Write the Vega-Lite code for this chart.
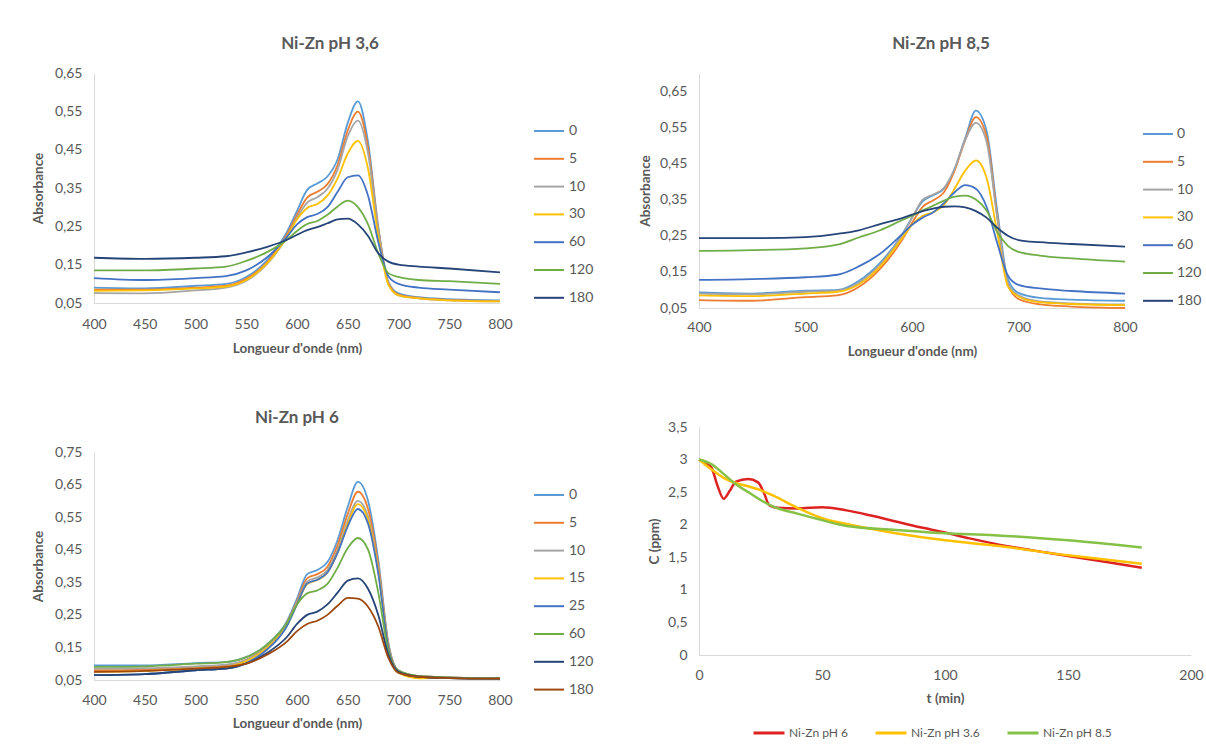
{
  "$schema": "https://vega.github.io/schema/vega-lite/v6.json",
  "background": "white",
  "padding": {"left": 31, "top": 35, "right": 4, "bottom": 4},
  "config": {
    "locale": {"number": {"decimal": ",", "thousands": " ", "grouping": [3], "currency": ["", " €"]}},
    "font": "Lato",
    "view": {"stroke": null},
    "axis": {"grid": false, "ticks": false, "domainColor": "#D9D9D9", "domainWidth": 1, "labelColor": "#595959", "labelFontSize": 14, "labelFont": "Lato", "titleColor": "#595959", "titleFontSize": 13.5, "titleFontWeight": "bold", "titleFont": "Lato", "labelFlush": false, "labelPadding": 12},
    "legend": {"symbolType": "stroke", "labelFontSize": 14, "labelColor": "#595959", "labelFont": "Lato", "padding": 0, "labelOffset": 4},
    "title": {"font": "Lato", "fontSize": 17, "fontWeight": "bold", "color": "#595959", "anchor": "middle", "frame": "group"}
  },
  "datasets": {
    "p1": [
      {"w":400,"s":"0","a":0.090},{"w":450,"s":"0","a":0.088},{"w":500,"s":"0","a":0.095},{"w":530,"s":"0","a":0.100},{"w":550,"s":"0","a":0.118},{"w":570,"s":"0","a":0.160},{"w":590,"s":"0","a":0.235},{"w":600,"s":"0","a":0.290},{"w":610,"s":"0","a":0.345},{"w":620,"s":"0","a":0.362},{"w":630,"s":"0","a":0.380},{"w":640,"s":"0","a":0.425},{"w":650,"s":"0","a":0.520},{"w":660,"s":"0","a":0.576},{"w":670,"s":"0","a":0.470},{"w":680,"s":"0","a":0.250},{"w":690,"s":"0","a":0.105},{"w":700,"s":"0","a":0.075},{"w":720,"s":"0","a":0.065},{"w":750,"s":"0","a":0.060},{"w":800,"s":"0","a":0.057},
      {"w":400,"s":"5","a":0.085},{"w":450,"s":"5","a":0.085},{"w":500,"s":"5","a":0.090},{"w":530,"s":"5","a":0.095},{"w":550,"s":"5","a":0.113},{"w":570,"s":"5","a":0.155},{"w":590,"s":"5","a":0.228},{"w":600,"s":"5","a":0.280},{"w":610,"s":"5","a":0.325},{"w":620,"s":"5","a":0.340},{"w":630,"s":"5","a":0.360},{"w":640,"s":"5","a":0.410},{"w":650,"s":"5","a":0.500},{"w":660,"s":"5","a":0.549},{"w":670,"s":"5","a":0.455},{"w":680,"s":"5","a":0.245},{"w":690,"s":"5","a":0.103},{"w":700,"s":"5","a":0.072},{"w":720,"s":"5","a":0.063},{"w":750,"s":"5","a":0.058},{"w":800,"s":"5","a":0.055},
      {"w":400,"s":"10","a":0.076},{"w":450,"s":"10","a":0.075},{"w":500,"s":"10","a":0.083},{"w":530,"s":"10","a":0.090},{"w":550,"s":"10","a":0.108},{"w":570,"s":"10","a":0.150},{"w":590,"s":"10","a":0.222},{"w":600,"s":"10","a":0.272},{"w":610,"s":"10","a":0.312},{"w":620,"s":"10","a":0.326},{"w":630,"s":"10","a":0.348},{"w":640,"s":"10","a":0.398},{"w":650,"s":"10","a":0.485},{"w":660,"s":"10","a":0.526},{"w":670,"s":"10","a":0.440},{"w":680,"s":"10","a":0.240},{"w":690,"s":"10","a":0.100},{"w":700,"s":"10","a":0.070},{"w":720,"s":"10","a":0.062},{"w":750,"s":"10","a":0.057},{"w":800,"s":"10","a":0.054},
      {"w":400,"s":"30","a":0.082},{"w":450,"s":"30","a":0.083},{"w":500,"s":"30","a":0.088},{"w":530,"s":"30","a":0.093},{"w":550,"s":"30","a":0.110},{"w":570,"s":"30","a":0.152},{"w":590,"s":"30","a":0.222},{"w":600,"s":"30","a":0.268},{"w":610,"s":"30","a":0.298},{"w":620,"s":"30","a":0.308},{"w":630,"s":"30","a":0.330},{"w":640,"s":"30","a":0.375},{"w":650,"s":"30","a":0.440},{"w":660,"s":"30","a":0.473},{"w":670,"s":"30","a":0.400},{"w":680,"s":"30","a":0.225},{"w":690,"s":"30","a":0.098},{"w":700,"s":"30","a":0.070},{"w":720,"s":"30","a":0.062},{"w":750,"s":"30","a":0.057},{"w":800,"s":"30","a":0.054},
      {"w":400,"s":"60","a":0.115},{"w":450,"s":"60","a":0.110},{"w":500,"s":"60","a":0.115},{"w":530,"s":"60","a":0.120},{"w":550,"s":"60","a":0.135},{"w":570,"s":"60","a":0.168},{"w":590,"s":"60","a":0.222},{"w":600,"s":"60","a":0.255},{"w":610,"s":"60","a":0.274},{"w":620,"s":"60","a":0.282},{"w":630,"s":"60","a":0.300},{"w":640,"s":"60","a":0.340},{"w":650,"s":"60","a":0.378},{"w":660,"s":"60","a":0.383},{"w":670,"s":"60","a":0.330},{"w":680,"s":"60","a":0.210},{"w":690,"s":"60","a":0.120},{"w":700,"s":"60","a":0.100},{"w":720,"s":"60","a":0.090},{"w":750,"s":"60","a":0.085},{"w":800,"s":"60","a":0.078},
      {"w":400,"s":"120","a":0.135},{"w":450,"s":"120","a":0.135},{"w":500,"s":"120","a":0.140},{"w":530,"s":"120","a":0.145},{"w":550,"s":"120","a":0.160},{"w":570,"s":"120","a":0.182},{"w":590,"s":"120","a":0.215},{"w":600,"s":"120","a":0.238},{"w":610,"s":"120","a":0.256},{"w":620,"s":"120","a":0.264},{"w":630,"s":"120","a":0.280},{"w":640,"s":"120","a":0.302},{"w":650,"s":"120","a":0.317},{"w":660,"s":"120","a":0.300},{"w":670,"s":"120","a":0.255},{"w":680,"s":"120","a":0.180},{"w":690,"s":"120","a":0.128},{"w":700,"s":"120","a":0.118},{"w":720,"s":"120","a":0.110},{"w":750,"s":"120","a":0.107},{"w":800,"s":"120","a":0.100},
      {"w":400,"s":"180","a":0.168},{"w":450,"s":"180","a":0.165},{"w":500,"s":"180","a":0.168},{"w":530,"s":"180","a":0.172},{"w":550,"s":"180","a":0.182},{"w":570,"s":"180","a":0.196},{"w":590,"s":"180","a":0.215},{"w":600,"s":"180","a":0.228},{"w":610,"s":"180","a":0.240},{"w":620,"s":"180","a":0.248},{"w":630,"s":"180","a":0.258},{"w":640,"s":"180","a":0.268},{"w":650,"s":"180","a":0.270},{"w":660,"s":"180","a":0.255},{"w":670,"s":"180","a":0.225},{"w":680,"s":"180","a":0.180},{"w":690,"s":"180","a":0.158},{"w":700,"s":"180","a":0.150},{"w":720,"s":"180","a":0.145},{"w":750,"s":"180","a":0.140},{"w":800,"s":"180","a":0.130}
    ],
    "p2": [
      {"w":400,"s":"0","a":0.093},{"w":450,"s":"0","a":0.090},{"w":500,"s":"0","a":0.098},{"w":530,"s":"0","a":0.100},{"w":550,"s":"0","a":0.125},{"w":570,"s":"0","a":0.175},{"w":590,"s":"0","a":0.250},{"w":600,"s":"0","a":0.300},{"w":610,"s":"0","a":0.345},{"w":620,"s":"0","a":0.362},{"w":630,"s":"0","a":0.380},{"w":640,"s":"0","a":0.435},{"w":650,"s":"0","a":0.520},{"w":660,"s":"0","a":0.596},{"w":670,"s":"0","a":0.540},{"w":680,"s":"0","a":0.320},{"w":690,"s":"0","a":0.130},{"w":700,"s":"0","a":0.092},{"w":720,"s":"0","a":0.078},{"w":750,"s":"0","a":0.073},{"w":800,"s":"0","a":0.070},
      {"w":400,"s":"5","a":0.072},{"w":450,"s":"5","a":0.070},{"w":500,"s":"5","a":0.080},{"w":530,"s":"5","a":0.085},{"w":550,"s":"5","a":0.108},{"w":570,"s":"5","a":0.158},{"w":590,"s":"5","a":0.235},{"w":600,"s":"5","a":0.285},{"w":610,"s":"5","a":0.330},{"w":620,"s":"5","a":0.348},{"w":630,"s":"5","a":0.370},{"w":640,"s":"5","a":0.430},{"w":650,"s":"5","a":0.515},{"w":660,"s":"5","a":0.578},{"w":670,"s":"5","a":0.525},{"w":680,"s":"5","a":0.305},{"w":690,"s":"5","a":0.115},{"w":700,"s":"5","a":0.075},{"w":720,"s":"5","a":0.060},{"w":750,"s":"5","a":0.054},{"w":800,"s":"5","a":0.050},
      {"w":400,"s":"10","a":0.090},{"w":450,"s":"10","a":0.088},{"w":500,"s":"10","a":0.095},{"w":530,"s":"10","a":0.098},{"w":550,"s":"10","a":0.120},{"w":570,"s":"10","a":0.170},{"w":590,"s":"10","a":0.248},{"w":600,"s":"10","a":0.298},{"w":610,"s":"10","a":0.350},{"w":620,"s":"10","a":0.364},{"w":630,"s":"10","a":0.382},{"w":640,"s":"10","a":0.435},{"w":650,"s":"10","a":0.515},{"w":660,"s":"10","a":0.562},{"w":670,"s":"10","a":0.510},{"w":680,"s":"10","a":0.300},{"w":690,"s":"10","a":0.120},{"w":700,"s":"10","a":0.085},{"w":720,"s":"10","a":0.068},{"w":750,"s":"10","a":0.063},{"w":800,"s":"10","a":0.060},
      {"w":400,"s":"30","a":0.085},{"w":450,"s":"30","a":0.083},{"w":500,"s":"30","a":0.090},{"w":530,"s":"30","a":0.095},{"w":550,"s":"30","a":0.115},{"w":570,"s":"30","a":0.165},{"w":590,"s":"30","a":0.240},{"w":600,"s":"30","a":0.280},{"w":610,"s":"30","a":0.305},{"w":620,"s":"30","a":0.315},{"w":630,"s":"30","a":0.335},{"w":640,"s":"30","a":0.380},{"w":650,"s":"30","a":0.430},{"w":660,"s":"30","a":0.458},{"w":670,"s":"30","a":0.410},{"w":680,"s":"30","a":0.260},{"w":690,"s":"30","a":0.110},{"w":700,"s":"30","a":0.082},{"w":720,"s":"30","a":0.066},{"w":750,"s":"30","a":0.061},{"w":800,"s":"30","a":0.058},
      {"w":400,"s":"60","a":0.128},{"w":450,"s":"60","a":0.130},{"w":500,"s":"60","a":0.135},{"w":530,"s":"60","a":0.142},{"w":550,"s":"60","a":0.165},{"w":570,"s":"60","a":0.200},{"w":590,"s":"60","a":0.252},{"w":600,"s":"60","a":0.280},{"w":610,"s":"60","a":0.300},{"w":620,"s":"60","a":0.315},{"w":630,"s":"60","a":0.340},{"w":640,"s":"60","a":0.370},{"w":650,"s":"60","a":0.390},{"w":660,"s":"60","a":0.380},{"w":670,"s":"60","a":0.330},{"w":680,"s":"60","a":0.230},{"w":690,"s":"60","a":0.140},{"w":700,"s":"60","a":0.114},{"w":720,"s":"60","a":0.104},{"w":750,"s":"60","a":0.097},{"w":800,"s":"60","a":0.090},
      {"w":400,"s":"120","a":0.208},{"w":450,"s":"120","a":0.210},{"w":500,"s":"120","a":0.215},{"w":530,"s":"120","a":0.225},{"w":550,"s":"120","a":0.245},{"w":570,"s":"120","a":0.265},{"w":590,"s":"120","a":0.292},{"w":600,"s":"120","a":0.305},{"w":610,"s":"120","a":0.320},{"w":620,"s":"120","a":0.333},{"w":630,"s":"120","a":0.347},{"w":640,"s":"120","a":0.358},{"w":650,"s":"120","a":0.361},{"w":660,"s":"120","a":0.350},{"w":670,"s":"120","a":0.320},{"w":680,"s":"120","a":0.260},{"w":690,"s":"120","a":0.222},{"w":700,"s":"120","a":0.205},{"w":720,"s":"120","a":0.195},{"w":750,"s":"120","a":0.187},{"w":800,"s":"120","a":0.178},
      {"w":400,"s":"180","a":0.243},{"w":450,"s":"180","a":0.243},{"w":500,"s":"180","a":0.246},{"w":530,"s":"180","a":0.255},{"w":550,"s":"180","a":0.265},{"w":570,"s":"180","a":0.282},{"w":590,"s":"180","a":0.298},{"w":600,"s":"180","a":0.308},{"w":610,"s":"180","a":0.318},{"w":620,"s":"180","a":0.325},{"w":630,"s":"180","a":0.330},{"w":640,"s":"180","a":0.331},{"w":650,"s":"180","a":0.328},{"w":660,"s":"180","a":0.318},{"w":670,"s":"180","a":0.300},{"w":680,"s":"180","a":0.272},{"w":690,"s":"180","a":0.250},{"w":700,"s":"180","a":0.238},{"w":720,"s":"180","a":0.232},{"w":750,"s":"180","a":0.227},{"w":800,"s":"180","a":0.220}
    ],
    "p3": [
      {"w":400,"s":"0","a":0.095},{"w":450,"s":"0","a":0.095},{"w":500,"s":"0","a":0.102},{"w":530,"s":"0","a":0.105},{"w":550,"s":"0","a":0.120},{"w":570,"s":"0","a":0.158},{"w":590,"s":"0","a":0.230},{"w":600,"s":"0","a":0.300},{"w":610,"s":"0","a":0.375},{"w":620,"s":"0","a":0.388},{"w":630,"s":"0","a":0.412},{"w":640,"s":"0","a":0.480},{"w":650,"s":"0","a":0.582},{"w":660,"s":"0","a":0.658},{"w":670,"s":"0","a":0.600},{"w":680,"s":"0","a":0.420},{"w":690,"s":"0","a":0.165},{"w":700,"s":"0","a":0.080},{"w":720,"s":"0","a":0.062},{"w":750,"s":"0","a":0.058},{"w":800,"s":"0","a":0.055},
      {"w":400,"s":"5","a":0.080},{"w":450,"s":"5","a":0.082},{"w":500,"s":"5","a":0.090},{"w":530,"s":"5","a":0.095},{"w":550,"s":"5","a":0.112},{"w":570,"s":"5","a":0.152},{"w":590,"s":"5","a":0.225},{"w":600,"s":"5","a":0.292},{"w":610,"s":"5","a":0.362},{"w":620,"s":"5","a":0.375},{"w":630,"s":"5","a":0.398},{"w":640,"s":"5","a":0.464},{"w":650,"s":"5","a":0.560},{"w":660,"s":"5","a":0.628},{"w":670,"s":"5","a":0.575},{"w":680,"s":"5","a":0.405},{"w":690,"s":"5","a":0.160},{"w":700,"s":"5","a":0.078},{"w":720,"s":"5","a":0.062},{"w":750,"s":"5","a":0.058},{"w":800,"s":"5","a":0.055},
      {"w":400,"s":"10","a":0.085},{"w":450,"s":"10","a":0.086},{"w":500,"s":"10","a":0.092},{"w":530,"s":"10","a":0.097},{"w":550,"s":"10","a":0.112},{"w":570,"s":"10","a":0.150},{"w":590,"s":"10","a":0.222},{"w":600,"s":"10","a":0.288},{"w":610,"s":"10","a":0.352},{"w":620,"s":"10","a":0.365},{"w":630,"s":"10","a":0.388},{"w":640,"s":"10","a":0.450},{"w":650,"s":"10","a":0.540},{"w":660,"s":"10","a":0.600},{"w":670,"s":"10","a":0.552},{"w":680,"s":"10","a":0.390},{"w":690,"s":"10","a":0.155},{"w":700,"s":"10","a":0.077},{"w":720,"s":"10","a":0.062},{"w":750,"s":"10","a":0.058},{"w":800,"s":"10","a":0.055},
      {"w":400,"s":"15","a":0.075},{"w":450,"s":"15","a":0.078},{"w":500,"s":"15","a":0.085},{"w":530,"s":"15","a":0.090},{"w":550,"s":"15","a":0.108},{"w":570,"s":"15","a":0.147},{"w":590,"s":"15","a":0.218},{"w":600,"s":"15","a":0.283},{"w":610,"s":"15","a":0.345},{"w":620,"s":"15","a":0.357},{"w":630,"s":"15","a":0.380},{"w":640,"s":"15","a":0.442},{"w":650,"s":"15","a":0.530},{"w":660,"s":"15","a":0.590},{"w":670,"s":"15","a":0.542},{"w":680,"s":"15","a":0.385},{"w":690,"s":"15","a":0.152},{"w":700,"s":"15","a":0.072},{"w":720,"s":"15","a":0.055},{"w":750,"s":"15","a":0.056},{"w":800,"s":"15","a":0.054},
      {"w":400,"s":"25","a":0.065},{"w":450,"s":"25","a":0.068},{"w":500,"s":"25","a":0.080},{"w":530,"s":"25","a":0.085},{"w":550,"s":"25","a":0.102},{"w":570,"s":"25","a":0.142},{"w":590,"s":"25","a":0.215},{"w":600,"s":"25","a":0.282},{"w":610,"s":"25","a":0.346},{"w":620,"s":"25","a":0.358},{"w":630,"s":"25","a":0.380},{"w":640,"s":"25","a":0.440},{"w":650,"s":"25","a":0.522},{"w":660,"s":"25","a":0.575},{"w":670,"s":"25","a":0.530},{"w":680,"s":"25","a":0.378},{"w":690,"s":"25","a":0.150},{"w":700,"s":"25","a":0.075},{"w":720,"s":"25","a":0.060},{"w":750,"s":"25","a":0.056},{"w":800,"s":"25","a":0.054},
      {"w":400,"s":"60","a":0.090},{"w":450,"s":"60","a":0.092},{"w":500,"s":"60","a":0.100},{"w":530,"s":"60","a":0.105},{"w":550,"s":"60","a":0.120},{"w":570,"s":"60","a":0.157},{"w":590,"s":"60","a":0.225},{"w":600,"s":"60","a":0.282},{"w":610,"s":"60","a":0.316},{"w":620,"s":"60","a":0.325},{"w":630,"s":"60","a":0.345},{"w":640,"s":"60","a":0.395},{"w":650,"s":"60","a":0.455},{"w":660,"s":"60","a":0.486},{"w":670,"s":"60","a":0.450},{"w":680,"s":"60","a":0.320},{"w":690,"s":"60","a":0.140},{"w":700,"s":"60","a":0.078},{"w":720,"s":"60","a":0.062},{"w":750,"s":"60","a":0.058},{"w":800,"s":"60","a":0.055},
      {"w":400,"s":"120","a":0.065},{"w":450,"s":"120","a":0.068},{"w":500,"s":"120","a":0.080},{"w":530,"s":"120","a":0.085},{"w":550,"s":"120","a":0.100},{"w":570,"s":"120","a":0.132},{"w":590,"s":"120","a":0.182},{"w":600,"s":"120","a":0.222},{"w":610,"s":"120","a":0.250},{"w":620,"s":"120","a":0.260},{"w":630,"s":"120","a":0.282},{"w":640,"s":"120","a":0.318},{"w":650,"s":"120","a":0.355},{"w":660,"s":"120","a":0.362},{"w":670,"s":"120","a":0.330},{"w":680,"s":"120","a":0.250},{"w":690,"s":"120","a":0.128},{"w":700,"s":"120","a":0.075},{"w":720,"s":"120","a":0.060},{"w":750,"s":"120","a":0.056},{"w":800,"s":"120","a":0.054},
      {"w":400,"s":"180","a":0.075},{"w":450,"s":"180","a":0.078},{"w":500,"s":"180","a":0.085},{"w":530,"s":"180","a":0.090},{"w":550,"s":"180","a":0.100},{"w":570,"s":"180","a":0.127},{"w":590,"s":"180","a":0.168},{"w":600,"s":"180","a":0.200},{"w":610,"s":"180","a":0.222},{"w":620,"s":"180","a":0.232},{"w":630,"s":"180","a":0.250},{"w":640,"s":"180","a":0.278},{"w":650,"s":"180","a":0.302},{"w":660,"s":"180","a":0.300},{"w":670,"s":"180","a":0.275},{"w":680,"s":"180","a":0.215},{"w":690,"s":"180","a":0.118},{"w":700,"s":"180","a":0.072},{"w":720,"s":"180","a":0.060},{"w":750,"s":"180","a":0.056},{"w":800,"s":"180","a":0.054}
    ],
    "p4": [
      {"t":0,"s":"Ni-Zn pH 6","c":3.0},{"t":5,"s":"Ni-Zn pH 6","c":2.88},{"t":7.5,"s":"Ni-Zn pH 6","c":2.6},{"t":10,"s":"Ni-Zn pH 6","c":2.4},{"t":12.5,"s":"Ni-Zn pH 6","c":2.52},{"t":15,"s":"Ni-Zn pH 6","c":2.66},{"t":20,"s":"Ni-Zn pH 6","c":2.7},{"t":24,"s":"Ni-Zn pH 6","c":2.65},{"t":26.5,"s":"Ni-Zn pH 6","c":2.48},{"t":28.5,"s":"Ni-Zn pH 6","c":2.3},{"t":32,"s":"Ni-Zn pH 6","c":2.26},{"t":40,"s":"Ni-Zn pH 6","c":2.25},{"t":50,"s":"Ni-Zn pH 6","c":2.27},{"t":60,"s":"Ni-Zn pH 6","c":2.22},{"t":70,"s":"Ni-Zn pH 6","c":2.14},{"t":80,"s":"Ni-Zn pH 6","c":2.05},{"t":90,"s":"Ni-Zn pH 6","c":1.96},{"t":100,"s":"Ni-Zn pH 6","c":1.88},{"t":110,"s":"Ni-Zn pH 6","c":1.79},{"t":120,"s":"Ni-Zn pH 6","c":1.71},{"t":135,"s":"Ni-Zn pH 6","c":1.61},{"t":150,"s":"Ni-Zn pH 6","c":1.52},{"t":165,"s":"Ni-Zn pH 6","c":1.43},{"t":180,"s":"Ni-Zn pH 6","c":1.34},
      {"t":0,"s":"Ni-Zn pH 3.6","c":3.0},{"t":5,"s":"Ni-Zn pH 3.6","c":2.85},{"t":10,"s":"Ni-Zn pH 3.6","c":2.72},{"t":15,"s":"Ni-Zn pH 3.6","c":2.64},{"t":20,"s":"Ni-Zn pH 3.6","c":2.59},{"t":25,"s":"Ni-Zn pH 3.6","c":2.53},{"t":30,"s":"Ni-Zn pH 3.6","c":2.45},{"t":40,"s":"Ni-Zn pH 3.6","c":2.26},{"t":50,"s":"Ni-Zn pH 3.6","c":2.1},{"t":60,"s":"Ni-Zn pH 3.6","c":2.01},{"t":80,"s":"Ni-Zn pH 3.6","c":1.87},{"t":100,"s":"Ni-Zn pH 3.6","c":1.76},{"t":120,"s":"Ni-Zn pH 3.6","c":1.68},{"t":150,"s":"Ni-Zn pH 3.6","c":1.53},{"t":180,"s":"Ni-Zn pH 3.6","c":1.40},
      {"t":0,"s":"Ni-Zn pH 8.5","c":3.0},{"t":5,"s":"Ni-Zn pH 8.5","c":2.93},{"t":10,"s":"Ni-Zn pH 8.5","c":2.78},{"t":15,"s":"Ni-Zn pH 8.5","c":2.62},{"t":20,"s":"Ni-Zn pH 8.5","c":2.5},{"t":25,"s":"Ni-Zn pH 8.5","c":2.38},{"t":30,"s":"Ni-Zn pH 8.5","c":2.28},{"t":40,"s":"Ni-Zn pH 8.5","c":2.17},{"t":50,"s":"Ni-Zn pH 8.5","c":2.07},{"t":60,"s":"Ni-Zn pH 8.5","c":1.98},{"t":80,"s":"Ni-Zn pH 8.5","c":1.92},{"t":100,"s":"Ni-Zn pH 8.5","c":1.87},{"t":120,"s":"Ni-Zn pH 8.5","c":1.84},{"t":150,"s":"Ni-Zn pH 8.5","c":1.76},{"t":180,"s":"Ni-Zn pH 8.5","c":1.65}
    ]
  },
  "resolve": {"scale": {"color": "independent"}},
  "spacing": 44,
  "hconcat": [
    {
      "resolve": {"scale": {"color": "independent"}},
      "spacing": 53,
      "vconcat": [
        {
          "width": 406, "height": 230,
          "title": {"text": "Ni-Zn pH 3,6", "offset": 13, "dx": 33},
          "data": {"name": "p1"},
          "mark": {"type": "line", "interpolate": "monotone", "strokeWidth": 1.8},
          "encoding": {
            "x": {"field": "w", "type": "quantitative", "scale": {"domain": [400, 800], "nice": false, "zero": false},
                  "axis": {"values": [400,450,500,550,600,650,700,750,800], "format": "d", "title": "Longueur d'onde (nm)", "labelPadding": 14, "titlePadding": 10}},
            "y": {"field": "a", "type": "quantitative", "scale": {"domain": [0.05, 0.65], "nice": false, "zero": false},
                  "axis": {"values": [0.05,0.15,0.25,0.35,0.45,0.55,0.65], "format": ".2f", "title": "Absorbance", "titlePadding": 7, "minExtent": 42, "maxExtent": 42}},
            "color": {"field": "s", "type": "nominal",
                      "scale": {"domain": ["0","5","10","30","60","120","180"], "range": ["#5B9BD5","#ED7D31","#A5A5A5","#FFC000","#4472C4","#70AD47","#264478"]},
                      "legend": {"title": null, "orient": "none", "legendX": 439, "legendY": 42, "symbolSize": 900, "symbolStrokeWidth": 2, "rowPadding": 4.8}}
          }
        },
        {
          "width": 406, "height": 228,
          "title": {"text": "Ni-Zn pH 6", "offset": 18.5, "dx": 0},
          "data": {"name": "p3"},
          "mark": {"type": "line", "interpolate": "monotone", "strokeWidth": 1.8},
          "encoding": {
            "x": {"field": "w", "type": "quantitative", "scale": {"domain": [400, 800], "nice": false, "zero": false},
                  "axis": {"values": [400,450,500,550,600,650,700,750,800], "format": "d", "title": "Longueur d'onde (nm)", "labelPadding": 13, "titlePadding": 9}},
            "y": {"field": "a", "type": "quantitative", "scale": {"domain": [0.05, 0.75], "nice": false, "zero": false},
                  "axis": {"values": [0.05,0.15,0.25,0.35,0.45,0.55,0.65,0.75], "format": ".2f", "title": "Absorbance", "titlePadding": 7, "minExtent": 42, "maxExtent": 42}},
            "color": {"field": "s", "type": "nominal",
                      "scale": {"domain": ["0","5","10","15","25","60","120","180"], "range": ["#5B9BD5","#ED7D31","#A5A5A5","#FFC000","#4472C4","#70AD47","#264478","#9E480E"]},
                      "legend": {"title": null, "orient": "none", "legendX": 439, "legendY": 27, "symbolSize": 900, "symbolStrokeWidth": 2, "rowPadding": 4.8}}
          }
        }
      ]
    },
    {
      "resolve": {"scale": {"color": "independent"}},
      "spacing": 62,
      "vconcat": [
        {
          "width": 426, "height": 235,
          "title": {"text": "Ni-Zn pH 8,5", "offset": 20, "dx": 29},
          "data": {"name": "p2"},
          "mark": {"type": "line", "interpolate": "monotone", "strokeWidth": 1.8},
          "encoding": {
            "x": {"field": "w", "type": "quantitative", "scale": {"domain": [400, 800], "nice": false, "zero": false},
                  "axis": {"values": [400,500,600,700,800], "format": "d", "title": "Longueur d'onde (nm)", "labelPadding": 12, "titlePadding": 10}},
            "y": {"field": "a", "type": "quantitative", "scale": {"domain": [0.05, 0.70], "nice": false, "zero": false},
                  "axis": {"values": [0.05,0.15,0.25,0.35,0.45,0.55,0.65], "format": ".2f", "title": "Absorbance", "titlePadding": 7, "minExtent": 40, "maxExtent": 40}},
            "color": {"field": "s", "type": "nominal",
                      "scale": {"domain": ["0","5","10","30","60","120","180"], "range": ["#5B9BD5","#ED7D31","#A5A5A5","#FFC000","#4472C4","#70AD47","#264478"]},
                      "legend": {"title": null, "orient": "none", "legendX": 443, "legendY": 45, "symbolSize": 900, "symbolStrokeWidth": 2, "rowPadding": 4.8, "labelOffset": 3}}
          }
        },
        {
          "width": 492, "height": 228,
          "data": {"name": "p4"},
          "mark": {"type": "line", "interpolate": "monotone", "strokeWidth": 2.5},
          "encoding": {
            "x": {"field": "t", "type": "quantitative", "scale": {"domain": [0, 200], "nice": false},
                  "axis": {"values": [0,50,100,150,200], "format": "d", "title": "t (min)", "labelPadding": 13, "titlePadding": 9}},
            "y": {"field": "c", "type": "quantitative", "scale": {"domain": [0, 3.5], "nice": false},
                  "axis": {"values": [0,0.5,1,1.5,2,2.5,3,3.5], "format": ".1~f", "title": "C (ppm)", "titlePadding": 7, "minExtent": 31, "maxExtent": 31}},
            "color": {"field": "s", "type": "nominal",
                      "scale": {"domain": ["Ni-Zn pH 6","Ni-Zn pH 3.6","Ni-Zn pH 8.5"], "range": ["#DD2222","#FFC000","#84C146"]},
                      "legend": {"title": null, "orient": "none", "direction": "horizontal", "legendX": 53, "legendY": 289, "symbolSize": 961, "symbolStrokeWidth": 3, "labelFontSize": 12, "labelOffset": 3, "columnPadding": 21}}
          }
        }
      ]
    }
  ]
}
